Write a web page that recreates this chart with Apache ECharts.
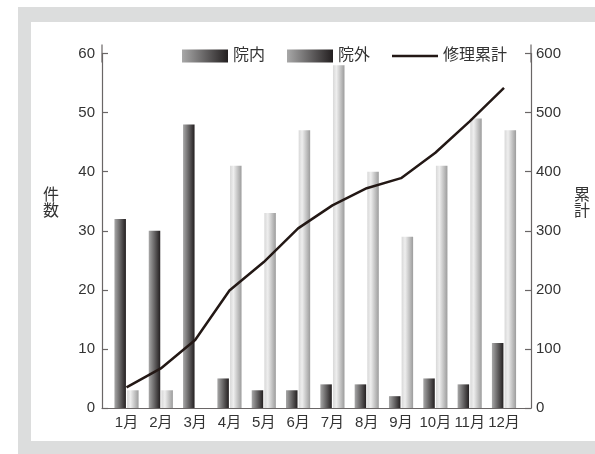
<!DOCTYPE html>
<html>
<head>
<meta charset="utf-8">
<script src="https://cdn.jsdelivr.net/npm/echarts@6/dist/echarts.min.js"></script>
<style>
  html, body { margin: 0; padding: 0; background: #ffffff; }
  #chart { width: 595px; height: 454px; }
</style>
</head>
<body>
<div id="chart"></div>
<script>
// Monthly repair counts (in-house / outside) and the running total
const months = ['1月', '2月', '3月', '4月', '5月', '6月', '7月', '8月', '9月', '10月', '11月', '12月'];
const inHouse = [32, 30, 48, 5, 3, 3, 4, 4, 2, 5, 4, 11];
const outside = [3, 3, 0, 41, 33, 47, 58, 40, 29, 41, 49, 47];
const cumulative = [35, 67, 115, 199, 247, 304, 343, 372, 389, 432, 485, 542];

const FONT = '"Liberation Sans", "Noto Sans CJK JP", sans-serif';
const TEXT = '#333333';
const AXIS = '#6a6666';
const INK = '#231815';

const darkFill = new echarts.graphic.LinearGradient(0, 0, 1, 0, [
  { offset: 0, color: '#a8a8a8' },
  { offset: 1, color: '#231f20' }
]);
const lightFill = new echarts.graphic.LinearGradient(0, 0, 1, 0, [
  { offset: 0, color: '#d8d8d8' },
  { offset: 0.3, color: '#eeeeee' },
  { offset: 1, color: '#9c9c9c' }
]);

// month positions 1..12 on a numeric x axis
const pos = months.map((m, i) => i + 1);
const pairs = arr => arr.map((v, i) => [pos[i], v]);

const axisLineCommon = {
  show: true,
  lineStyle: { color: AXIS, width: 1.2 },
  symbol: ['none', 'rect'],
  symbolSize: [1.2, 18]
};
const nameStyle = { fill: TEXT, font: '16px ' + FONT, lineHeight: 16, align: 'center', verticalAlign: 'top' };

const chart = echarts.init(document.getElementById('chart'), null, { renderer: 'canvas' });
chart.setOption({
  animation: false,
  textStyle: { fontFamily: FONT },
  graphic: [
    { type: 'rect', z: -10, shape: { x: 18, y: 7, width: 577, height: 447 }, style: { fill: '#dcdddd' } },
    { type: 'rect', z: -9, shape: { x: 31, y: 22, width: 564, height: 419 }, style: { fill: '#ffffff' } },
    // axis titles, stacked vertically
    { type: 'text', x: 51, y: 188, style: Object.assign({ text: '件\n数' }, nameStyle) },
    { type: 'text', x: 582, y: 188, style: Object.assign({ text: '累\n計' }, nameStyle) }
  ],
  legend: {
    left: 177,
    top: 43,
    itemWidth: 46,
    itemHeight: 13,
    itemGap: 22,
    textStyle: { fontFamily: FONT, fontSize: 16, color: TEXT },
    data: [
      { name: '院内', icon: 'rect', itemStyle: { color: darkFill } },
      { name: '院外', icon: 'rect', itemStyle: { color: darkFill } },
      { name: '修理累計', icon: 'path://M0,0H46V2.5H0Z', itemStyle: { color: INK } }
    ]
  },
  grid: { left: 102, right: 64, top: 53.5, bottom: 46 },
  xAxis: {
    type: 'value',
    min: 0.286,
    max: 12.787,
    axisLine: { show: true, onZero: false, lineStyle: { color: AXIS, width: 1.2 } },
    axisTick: { show: false },
    splitLine: { show: false },
    axisLabel: {
      customValues: pos,
      formatter: v => months[Math.round(v) - 1],
      fontFamily: FONT,
      fontSize: 15,
      color: TEXT,
      margin: 7
    }
  },
  yAxis: [
    {
      type: 'value',
      min: 0, max: 60, interval: 10,
      axisLine: axisLineCommon,
      axisTick: { show: true, inside: true, length: 6, lineStyle: { color: AXIS, width: 1.2 } },
      splitLine: { show: false },
      axisLabel: { fontFamily: FONT, fontSize: 15, color: TEXT, margin: 7 }
    },
    {
      type: 'value',
      min: 0, max: 600, interval: 100,
      axisLine: axisLineCommon,
      axisTick: { show: true, inside: true, length: 6, lineStyle: { color: AXIS, width: 1.2 } },
      splitLine: { show: false },
      axisLabel: { fontFamily: FONT, fontSize: 15, color: TEXT, margin: 5 }
    }
  ],
  series: [
    {
      name: '院内',
      type: 'bar',
      yAxisIndex: 0,
      barWidth: 11.5,
      barGap: '10%',
      itemStyle: { color: darkFill },
      data: pairs(inHouse)
    },
    {
      name: '院外',
      type: 'bar',
      yAxisIndex: 0,
      barWidth: 11.5,
      barGap: '10%',
      itemStyle: { color: lightFill },
      data: pairs(outside)
    },
    {
      name: '修理累計',
      type: 'line',
      yAxisIndex: 1,
      symbol: 'none',
      z: 5,
      lineStyle: { color: INK, width: 2.5 },
      itemStyle: { color: INK },
      data: pairs(cumulative)
    }
  ]
});
</script>
</body>
</html>
